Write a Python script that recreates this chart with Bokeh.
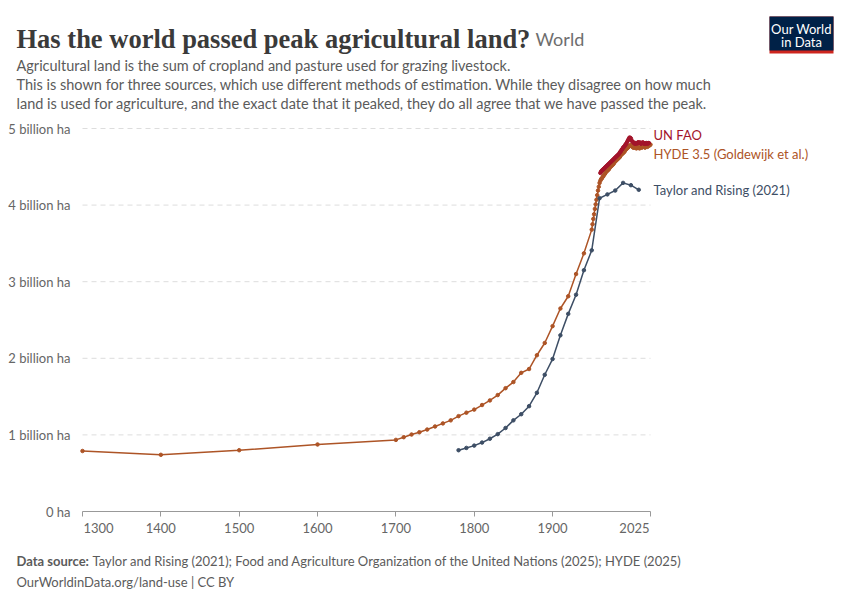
from bokeh.plotting import figure
from bokeh.models import Label, BoxAnnotation, FixedTicker, Range1d
from bokeh.embed import file_html
from bokeh.resources import INLINE

# ---------------- data (billion hectares) ----------------
hyde_years = [1300, 1400, 1500, 1600, 1700, 1710, 1720, 1730, 1740, 1750, 1760, 1770, 1780, 1790,
              1800, 1810, 1820, 1830, 1840, 1850, 1860, 1870, 1880, 1890, 1900, 1910, 1920, 1930,
              1940, 1950, 1951, 1952, 1953, 1954, 1955, 1956, 1957, 1958, 1959, 1960, 1961, 1962,
              1963, 1964, 1965, 1966, 1967, 1968, 1969, 1970, 1971, 1972, 1973, 1974, 1975, 1976,
              1977, 1978, 1979, 1980, 1981, 1982, 1983, 1984, 1985, 1986, 1987, 1988, 1989, 1990,
              1991, 1992, 1993, 1994, 1995, 1996, 1997, 1998, 1999, 2000, 2001, 2002, 2003, 2004,
              2005, 2006, 2007, 2008, 2009, 2010, 2011, 2012, 2013, 2014, 2015, 2016, 2017, 2018,
              2019, 2020, 2021, 2022, 2023, 2024, 2025]
hyde_values = [0.79, 0.74, 0.80, 0.875, 0.935, 0.97, 1.005, 1.035, 1.07, 1.11, 1.15, 1.19, 1.245, 1.29,
               1.33, 1.39, 1.45, 1.52, 1.61, 1.69, 1.81, 1.86, 2.04, 2.20, 2.42, 2.65, 2.81, 3.10,
               3.37, 3.68, 3.75, 3.82, 3.88, 3.95, 4.01, 4.07, 4.13, 4.19, 4.24, 4.29, 4.32, 4.34,
               4.35, 4.37, 4.38, 4.40, 4.41, 4.43, 4.44, 4.45, 4.46, 4.47, 4.49, 4.50, 4.51, 4.52,
               4.53, 4.54, 4.56, 4.57, 4.58, 4.59, 4.60, 4.61, 4.62, 4.63, 4.65, 4.66, 4.67, 4.68,
               4.69, 4.70, 4.72, 4.73, 4.74, 4.75, 4.76, 4.77, 4.78, 4.78, 4.77, 4.76, 4.75, 4.75,
               4.76, 4.75, 4.74, 4.75, 4.76, 4.75, 4.74, 4.75, 4.76, 4.75, 4.76, 4.77, 4.76, 4.75,
               4.76, 4.77, 4.76, 4.77, 4.78, 4.78, 4.79]

fao_years = list(range(1961, 2024))
fao_values = [4.42, 4.44, 4.45, 4.46, 4.47, 4.48, 4.49, 4.50, 4.51, 4.52, 4.53, 4.54, 4.55, 4.56,
              4.57, 4.58, 4.59, 4.60, 4.61, 4.62, 4.63, 4.64, 4.65, 4.66, 4.67, 4.69, 4.70, 4.72,
              4.73, 4.75, 4.76, 4.77, 4.79, 4.80, 4.82, 4.84, 4.86, 4.88, 4.88, 4.87, 4.84, 4.83,
              4.82, 4.81, 4.80, 4.81, 4.80, 4.81, 4.82, 4.81, 4.82, 4.81, 4.80, 4.81, 4.82, 4.81,
              4.80, 4.81, 4.80, 4.81, 4.80, 4.81, 4.81]

taylor_years = [1780, 1790, 1800, 1810, 1820, 1830, 1840, 1850, 1860, 1870, 1880, 1890, 1900,
                1910, 1920, 1930, 1940, 1950, 1960, 1970, 1980, 1990, 2000, 2010]
taylor_values = [0.80, 0.83, 0.86, 0.90, 0.95, 1.01, 1.09, 1.19, 1.27, 1.375, 1.55, 1.785, 1.99,
                 2.30, 2.58, 2.83, 3.15, 3.41, 4.09, 4.14, 4.19, 4.29, 4.26, 4.20]

series_names = ["UN FAO", "HYDE 3.5 (Goldewijk et al.)", "Taylor and Rising (2021)"]
y_ticks = [0, 1, 2, 3, 4, 5]
y_tick_labels = ["0 ha", "1 billion ha", "2 billion ha", "3 billion ha", "4 billion ha", "5 billion ha"]
x_ticks = [1300, 1400, 1500, 1600, 1700, 1800, 1900, 2025]
x_tick_labels = ["1300", "1400", "1500", "1600", "1700", "1800", "1900", "2025"]

# ---------------- styling ----------------
FAO_C = "#A3142B"
HYDE_C = "#AD5426"
TAY_C = "#3D4E65"
FONT = "Lato"
GRAY = "#666666"
TXT = "#5b5b5b"

W, H = 850, 600
# plot area in page pixels
PX_L, PX_R, PX_T, PX_B = 82, 650, 128, 511
xmin, xmax = x_ticks[0], x_ticks[-1]
ymin, ymax = y_ticks[0], y_ticks[-1]
sx = (PX_R - PX_L) / (xmax - xmin)
sy = (PX_B - PX_T) / (ymax - ymin)
x_range = Range1d(xmin - PX_L / sx, xmax + (W - PX_R) / sx)
y_range = Range1d(ymin - (H - PX_B) / sy, ymax + PX_T / sy)

p = figure(width=W, height=H, output_backend="svg", toolbar_location=None, title=None,
           x_range=x_range, y_range=y_range, min_border=0)
p.outline_line_color = None
p.background_fill_color = "white"
p.border_fill_color = "white"
p.grid.visible = False

# axes (drawn inside the canvas at fixed locations)
p.yaxis.fixed_location = xmin
p.yaxis.bounds = (ymin, ymax)
p.yaxis.ticker = FixedTicker(ticks=y_ticks)
p.yaxis.major_label_overrides = {t: l for t, l in zip(y_ticks, y_tick_labels)}
p.yaxis.axis_line_color = None
p.yaxis.major_tick_line_color = None
p.yaxis.minor_tick_line_color = None
p.yaxis.major_label_standoff = 6
p.yaxis.major_label_text_font = FONT
p.yaxis.major_label_text_font_size = "13px"
p.yaxis.major_label_text_color = GRAY

p.xaxis.fixed_location = ymin
p.xaxis.bounds = (xmin, xmax)
p.xaxis.ticker = FixedTicker(ticks=x_ticks)
xo = {t: l for t, l in zip(x_ticks, x_tick_labels)}
xo[x_ticks[0]] = ""
xo[x_ticks[-1]] = ""
p.xaxis.major_label_overrides = xo
p.xaxis.axis_line_color = "#999999"
p.xaxis.major_tick_line_color = "#999999"
p.xaxis.major_tick_out = 5
p.xaxis.major_tick_in = 0
p.xaxis.minor_tick_line_color = None
p.xaxis.major_label_standoff = 6
p.xaxis.major_label_text_font = FONT
p.xaxis.major_label_text_font_size = "13px"
p.xaxis.major_label_text_color = GRAY

# dashed horizontal grid lines spanning the plot area only
p.segment(x0=[xmin] * (len(y_ticks) - 1), x1=[xmax] * (len(y_ticks) - 1), y0=y_ticks[1:], y1=y_ticks[1:],
          line_color="#dddddd", line_width=1, line_dash="5 4")

# series
p.line(hyde_years, hyde_values, line_color=HYDE_C, line_width=1.5)
p.scatter(hyde_years, hyde_values, size=3.5, color=HYDE_C)
p.line(taylor_years, taylor_values, line_color=TAY_C, line_width=1.5)
p.scatter(taylor_years, taylor_values, size=3.5, color=TAY_C)
p.line(fao_years, fao_values, line_color=FAO_C, line_width=1.5)
p.scatter(fao_years, fao_values, size=3.5, color=FAO_C)


def lab(text, px, py, size, color=GRAY, font=FONT, style="normal", align="left", baseline="alphabetic"):
    p.add_layout(Label(x=px, y=H - py, x_units="screen", y_units="screen", text=text,
                       text_font=font, text_font_size=size, text_color=color,
                       text_font_style=style, text_align=align, text_baseline=baseline))


# x edge tick labels
lab(x_tick_labels[0], 83, 527, "13px", align="left")
lab(x_tick_labels[-1], 649, 527, "13px", align="right")

# series labels
lab(series_names[0], 653, 134, "13px", color=FAO_C, baseline="middle")
lab(series_names[1], 653, 153, "13px", color=HYDE_C, baseline="middle")
lab(series_names[2], 653, 189, "13px", color=TAY_C, baseline="middle")

# title & subtitle
lab("Has the world passed peak agricultural land?", 16, 38, "26.5px", color="#3a3a3a",
    font="Liberation Serif", style="bold")
lab("World", 535, 38, "18px", color="#6e6e6e")
lab("Agricultural land is the sum of cropland and pasture used for grazing livestock.", 16, 65, "14.5px", color=TXT)
lab("This is shown for three sources, which use different methods of estimation. While they disagree on how much",
    16, 84, "14.5px", color=TXT)
lab("land is used for agriculture, and the exact date that it peaked, they do all agree that we have passed the peak.",
    16, 103, "14.5px", color=TXT)

# footer
lab("Data source:", 16, 560, "13px", color=TXT, style="bold")
lab("Taylor and Rising (2021); Food and Agriculture Organization of the United Nations (2025); HYDE (2025)",
    92, 560, "13px", color=TXT)
lab("OurWorldinData.org/land-use | CC BY", 16, 581, "13px", color=TXT)

# logo
p.add_layout(BoxAnnotation(left=769, right=833, top=H - 16, bottom=H - 53,
                           left_units="screen", right_units="screen", top_units="screen", bottom_units="screen",
                           fill_color="#ce261e", fill_alpha=1, line_color=None))
p.add_layout(BoxAnnotation(left=769, right=833, top=H - 16, bottom=H - 50,
                           left_units="screen", right_units="screen", top_units="screen", bottom_units="screen",
                           fill_color="#002147", fill_alpha=1, line_color=None))
lab("Our World", 801, 28, "13px", color="white", align="center", baseline="middle")
lab("in Data", 801, 41, "13px", color="white", align="center", baseline="middle")

open("out.html", "w").write(file_html(p, INLINE))
